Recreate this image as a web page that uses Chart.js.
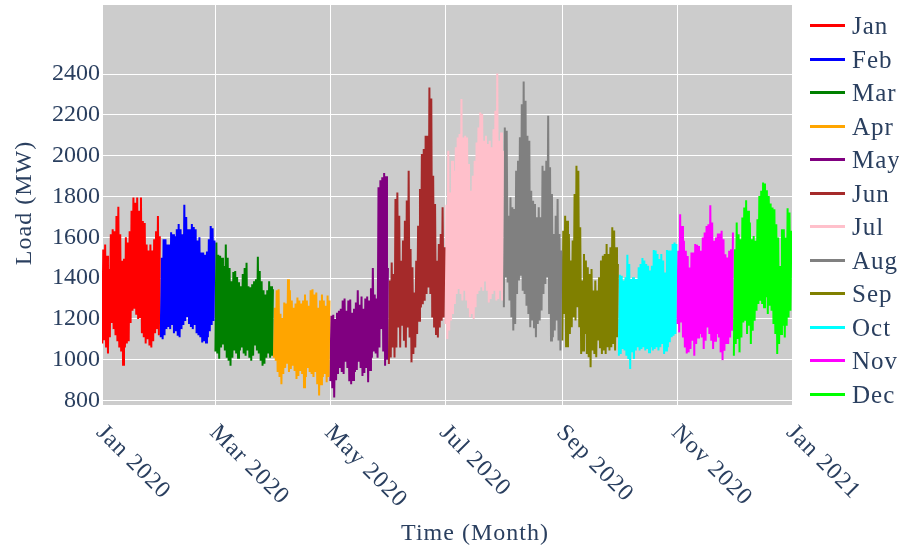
<!DOCTYPE html>
<html>
<head>
<meta charset="utf-8">
<script src="https://cdn.jsdelivr.net/npm/chart.js@4.4.1/dist/chart.umd.min.js"></script>
<style>
  html, body { margin: 0; padding: 0; background: #ffffff; }
  #wrap { position: relative; width: 899px; height: 552px; }
  #chart { position: absolute; left: 0; top: 0; }
  #legend { position: absolute; left: 0; top: 0; width: 899px; height: 552px; pointer-events: none;
            font-family: "Liberation Serif", serif; font-size: 25px; letter-spacing: 1px; color: #2a3f5f; }
  .swatch { position: absolute; width: 35px; height: 3px; }
  .name { position: absolute; height: 25px; line-height: 25px; white-space: nowrap; }
</style>
</head>
<body>
<div id="wrap">
  <canvas id="chart" width="899" height="552"></canvas>
  <div id="legend"></div>
</div>
<script>
// Hourly electrical load for 2020, one trace per month.
// Each day is described by its overnight trough and afternoon peak (MW).
const months = ['Jan', 'Feb', 'Mar', 'Apr', 'May', 'Jun', 'Jul', 'Aug', 'Sep', 'Oct', 'Nov', 'Dec'];
const monthColors = ['red', 'blue', 'green', 'orange', 'purple', 'brown', 'pink', 'gray', 'olive', 'cyan', 'magenta', 'lime'];

const janPeak = [1540,1565,1510,1445,1615,1640,1630,1705,1750,1615,1485,1495,1600,1575,1630,1730,1795,1770,1795,1730,1795,1680,1670,1565,1535,1565,1535,1590,1630,1705,1605];
const janLow  = [1080,1095,1060,1030,1110,1180,1150,1120,1090,1060,1040,975,1060,1080,1090,1180,1240,1250,1220,1200,1210,1130,1110,1080,1100,1070,1060,1090,1130,1150,1120];
const febPeak = [1500,1590,1590,1565,1565,1625,1615,1605,1640,1665,1640,1615,1760,1700,1640,1640,1665,1650,1640,1585,1600,1525,1525,1515,1530,1590,1655,1645,1585];
const febLow  = [1110,1100,1120,1150,1160,1150,1170,1130,1140,1117,1110,1150,1170,1190,1210,1180,1160,1150,1170,1130,1120,1110,1085,1090,1085,1110,1140,1170,1190];
const marPeak = [1575,1515,1510,1500,1460,1565,1500,1450,1385,1430,1435,1405,1380,1360,1420,1450,1475,1360,1355,1370,1385,1395,1505,1435,1385,1340,1320,1340,1385,1360,1345];
const marLow  = [1040,1030,1005,1060,1075,1045,1010,995,970,1010,1045,1030,1010,1045,1060,1030,1020,1045,1010,995,1020,1075,1045,1030,995,970,980,1010,1030,1010,1020];
const aprPeak = [1255,1340,1345,1225,1205,1280,1275,1395,1340,1290,1255,1275,1305,1290,1275,1290,1320,1290,1265,1340,1345,1320,1330,1255,1290,1320,1290,1265,1315,1290];
const aprLow  = [1010,995,940,915,880,930,960,980,940,955,970,945,905,920,945,930,865,915,960,940,930,915,940,880,825,880,915,930,890,915];
const mayPeak = [1215,1220,1200,1230,1240,1250,1290,1300,1240,1290,1295,1230,1250,1280,1340,1270,1310,1250,1300,1310,1290,1350,1450,1320,1300,1845,1880,1895,1915,1900,1450];
const mayLow  = [895,860,815,900,930,960,940,930,990,960,895,880,900,940,950,990,960,920,935,960,890,950,1010,1040,1030,1010,1060,1150,1040,970,1000];
const junPeak = [1388,1477,1420,1788,1820,1706,1485,1584,1681,1780,1926,1543,1453,1330,1485,1657,1837,2008,2033,2098,2098,2335,2280,1902,1763,1485,1567,1616,1747,1551];
const junLow  = [979,1011,1060,1011,1060,1158,1060,1166,1093,1060,1158,1109,987,1028,1060,1126,1191,1256,1272,1289,1322,1354,1322,1207,1158,1126,1109,1158,1191,1207];
const julPeak = [1760,2024,1820,1975,1926,2041,2090,2106,2278,2090,2098,2090,1959,1828,1902,1975,2065,2139,2212,2204,2073,2098,2057,2073,2041,2130,2220,2403,2073,2114,2024];
const julLow  = [1175,1102,1143,1192,1224,1273,1322,1347,1322,1290,1338,1290,1257,1208,1224,1200,1257,1322,1338,1355,1338,1388,1338,1281,1298,1322,1338,1290,1298,1338,1290];
const augPeak = [2139,2122,1706,1796,1747,1739,1926,1975,2090,2253,2364,2270,2098,2073,1828,1779,1763,1698,1747,1698,1951,1926,1975,2196,1943,1812,1616,1706,1788,1616,1535];
const augLow  = [1257,1404,1379,1290,1208,1143,1175,1322,1388,1412,1338,1322,1265,1224,1159,1192,1159,1110,1175,1192,1241,1322,1371,1404,1224,1094,1110,1143,1192,1094,1045];
const sepPeak = [1632,1706,1681,1616,1486,1584,1812,1951,1926,1649,1388,1518,1486,1453,1420,1445,1339,1388,1339,1404,1486,1510,1518,1567,1518,1551,1649,1633,1551,1469];
const sepLow  = [1094,1224,1061,1061,1126,1159,1208,1192,1257,1159,1028,1045,1126,1028,1012,963,1045,1028,1012,1094,1061,1028,1045,1028,1061,1045,1061,1077,1045,1110];
const octPeak = [1417,1412,1388,1404,1515,1469,1396,1404,1396,1396,1453,1469,1499,1486,1469,1461,1437,1461,1538,1535,1518,1494,1518,1486,1428,1538,1535,1535,1567,1575,1567];
const octLow  = [1020,1028,1053,1045,1020,1004,955,1037,1004,1045,1061,1045,1053,1061,1045,1053,1037,1061,1045,1053,1061,1045,1061,1077,1028,1045,1061,1086,1110,1118,1126];
const novPeak = [1534,1713,1656,1583,1534,1509,1452,1526,1526,1567,1563,1558,1534,1599,1624,1656,1664,1757,1673,1583,1599,1619,1619,1632,1591,1517,1501,1534,1542,1624];
const novLow  = [1175,1134,1183,1109,1060,1031,1036,1052,1093,1019,1077,1109,1126,1109,1052,1093,1158,1126,1093,1052,1093,1126,1109,1036,998,1044,1077,1077,1109,1142];
const decPeak = [1542,1673,1615,1591,1697,1746,1782,1730,1673,1591,1607,1583,1689,1803,1828,1869,1864,1831,1803,1766,1746,1738,1664,1599,1460,1640,1640,1599,1743,1722,1632];
const decLow  = [1019,1077,1101,1036,1109,1183,1191,1126,1166,1077,1142,1191,1240,1273,1289,1273,1257,1306,1224,1265,1240,1175,1126,1028,1077,1126,1166,1109,1166,1207,1240];

const dailyPeaks = [janPeak, febPeak, marPeak, aprPeak, mayPeak, junPeak, julPeak, augPeak, sepPeak, octPeak, novPeak, decPeak];
const dailyLows  = [janLow, febLow, marLow, aprLow, mayLow, junLow, julLow, augLow, sepLow, octLow, novLow, decLow];

// Axis ticks: x in days since 1 Jan 2020, y in MW
const xTickDays   = [0, 60, 121, 182, 244, 305, 366];
const xTickLabels = ['Jan 2020', 'Mar 2020', 'May 2020', 'Jul 2020', 'Sep 2020', 'Nov 2020', 'Jan 2021'];
const yTicks      = [800, 1000, 1200, 1400, 1600, 1800, 2000, 2200, 2400];

const TROUGH_HOUR = 4;   // early-morning minimum
const PEAK_HOUR = 16;    // afternoon maximum
const FONT = '"Liberation Serif", serif';
const TEXT_COLOR = '#2a3f5f';

// Build one line per month, alternating trough and peak hour by hour of the year
let dayOffset = 0;
const datasets = months.map((name, m) => {
  const points = [];
  dailyPeaks[m].forEach((peak, d) => {
    const base = (dayOffset + d) * 24;
    points.push({ x: base + TROUGH_HOUR, y: dailyLows[m][d] });
    points.push({ x: base + PEAK_HOUR, y: peak });
  });
  dayOffset += dailyPeaks[m].length;
  return {
    label: name,
    data: points,
    borderColor: monthColors[m],
    backgroundColor: monthColors[m],
    borderWidth: 2,
    pointRadius: 0,
    tension: 0,
    fill: false
  };
});

const decorations = {
  id: 'decorations',
  beforeDraw(chart) {
    const { ctx, chartArea: a } = chart;
    ctx.save();
    ctx.fillStyle = '#cccccc';
    ctx.fillRect(a.left, a.top, a.right - a.left, a.bottom - a.top);
    ctx.restore();
  },
  afterDraw(chart) {
    const { ctx, chartArea: a } = chart;
    const xs = chart.scales.x;
    ctx.save();
    ctx.fillStyle = TEXT_COLOR;
    ctx.font = '24px ' + FONT;
    ctx.letterSpacing = '1px';
    // slanted month labels under the axis
    xTickDays.forEach((day, i) => {
      const px = xs.getPixelForValue(day * 24);
      ctx.save();
      ctx.translate(px - 2, a.bottom + 24);
      ctx.rotate(Math.PI / 4);
      ctx.textAlign = 'left';
      ctx.textBaseline = 'middle';
      ctx.fillText(xTickLabels[i], 0, 0);
      ctx.restore();
    });
    // axis titles
    ctx.textAlign = 'center';
    ctx.textBaseline = 'middle';
    ctx.fillText('Time (Month)', 475, 534);
    ctx.save();
    ctx.translate(25, 203);
    ctx.rotate(-Math.PI / 2);
    ctx.fillText('Load (MW)', 0, 0);
    ctx.restore();
    ctx.restore();
  }
};

new Chart(document.getElementById('chart'), {
  type: 'line',
  data: { datasets },
  options: {
    responsive: false,
    animation: false,
    events: [],
    layout: { padding: { top: 5, right: 107, left: 0, bottom: 0 } },
    plugins: { legend: { display: false }, tooltip: { enabled: false } },
    scales: {
      x: {
        type: 'linear',
        min: 0,
        max: 366 * 24,
        afterBuildTicks: s => { s.ticks = xTickDays.map(d => ({ value: d * 24 })); },
        afterFit: s => { s.height = 147; s.paddingLeft = 0; s.paddingRight = 0; },
        ticks: { display: false },
        grid: { color: '#ffffff', lineWidth: 1, drawTicks: false },
        border: { display: false }
      },
      y: {
        type: 'linear',
        min: 778,
        max: 2739,
        afterBuildTicks: s => { s.ticks = yTicks.map(v => ({ value: v })); },
        afterFit: s => { s.width = 102; s.paddingTop = 0; s.paddingBottom = 0; },
        ticks: {
          autoSkip: false,
          padding: 2,
          color: TEXT_COLOR,
          font: { family: FONT, size: 24 },
          callback: v => String(v)
        },
        grid: { color: '#ffffff', lineWidth: 1, drawTicks: false },
        border: { display: false }
      }
    }
  },
  plugins: [decorations]
});

// Legend: a short line sample and the month name for each trace
const legend = document.getElementById('legend');
months.forEach((name, i) => {
  const cy = 25.7 + 33.5 * i;
  const sw = document.createElement('div');
  sw.className = 'swatch';
  sw.style.left = '810px';
  sw.style.top = (cy - 1.5) + 'px';
  sw.style.background = monthColors[i];
  legend.appendChild(sw);
  const label = document.createElement('div');
  label.className = 'name';
  label.style.left = '852px';
  label.style.top = (cy - 12.5) + 'px';
  label.textContent = name;
  legend.appendChild(label);
});
</script>
</body>
</html>
